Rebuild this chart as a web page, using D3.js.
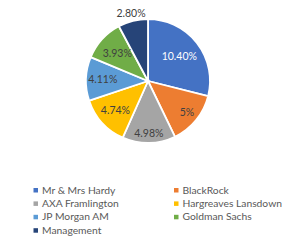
<!DOCTYPE html>
<html>
<head>
<meta charset="utf-8">
<script src="https://cdn.jsdelivr.net/npm/d3@7"></script>
<style>
  body { margin: 0; background: #fff; }
  text { font-family: Lato, "Open Sans", sans-serif; }
</style>
</head>
<body>
<svg id="chart" width="300" height="245"></svg>
<script>
// holders and their share
var holders = ["Mr & Mrs Hardy", "BlackRock", "AXA Framlington", "Hargreaves Lansdown",
               "JP Morgan AM", "Goldman Sachs", "Management"];
var shares = [10.40, 5, 4.98, 4.74, 4.11, 3.93, 2.80];
var shareLabels = ["10.40%", "5%", "4.98%", "4.74%", "4.11%", "3.93%", "2.80%"];

var colours = ["#4472C4", "#ED7D31", "#A5A5A5", "#FFC000", "#5B9BD5", "#70AD47", "#264478"];
// how far out each label sits, as part of the radius (last one is outside)
var labelDist = [0.64, 0.81, 0.84, 0.71, 0.73, 0.67, 1.13];

var svg = d3.select("#chart");
var cx = 148, cy = 81, r = 62;

var pie = d3.pie().sort(null).value(function(d) { return d; });
var arcs = pie(shares);
var arc = d3.arc().innerRadius(0).outerRadius(r);

var g = svg.append("g").attr("transform", "translate(" + cx + "," + cy + ")");

g.selectAll("path")
  .data(arcs)
  .join("path")
  .attr("d", arc)
  .attr("fill", function(d, i) { return colours[i]; })
  .attr("stroke", "#fff")
  .attr("stroke-width", 1.8);

g.selectAll("text.lbl")
  .data(arcs)
  .join("text")
  .attr("class", "lbl")
  .attr("transform", function(d, i) {
    var a = (d.startAngle + d.endAngle) / 2;
    var k = r * labelDist[i];
    return "translate(" + (Math.sin(a) * k) + "," + (-Math.cos(a) * k) + ")";
  })
  .attr("text-anchor", "middle")
  .attr("dy", "0.35em")
  .attr("font-size", 10.5)
  .attr("fill", function(d, i) { return i == 0 ? "#fff" : "#404040"; })
  .text(function(d, i) { return shareLabels[i]; });

// legend, two columns
var legend = svg.append("g");
var item = legend.selectAll("g")
  .data(holders)
  .join("g")
  .attr("transform", function(d, i) {
    var col = i % 2, row = Math.floor(i / 2);
    return "translate(" + (col == 0 ? 33.5 : 174) + "," + (190 + row * 13.4) + ")";
  });

item.append("rect")
  .attr("x", 0).attr("y", -2)
  .attr("width", 4.5).attr("height", 4.5)
  .attr("fill", function(d, i) { return colours[i]; });

item.append("text")
  .attr("x", 8.5)
  .attr("dy", "0.35em")
  .attr("font-size", 10.3)
  .attr("fill", "#595959")
  .text(function(d) { return d; });
</script>
</body>
</html>
